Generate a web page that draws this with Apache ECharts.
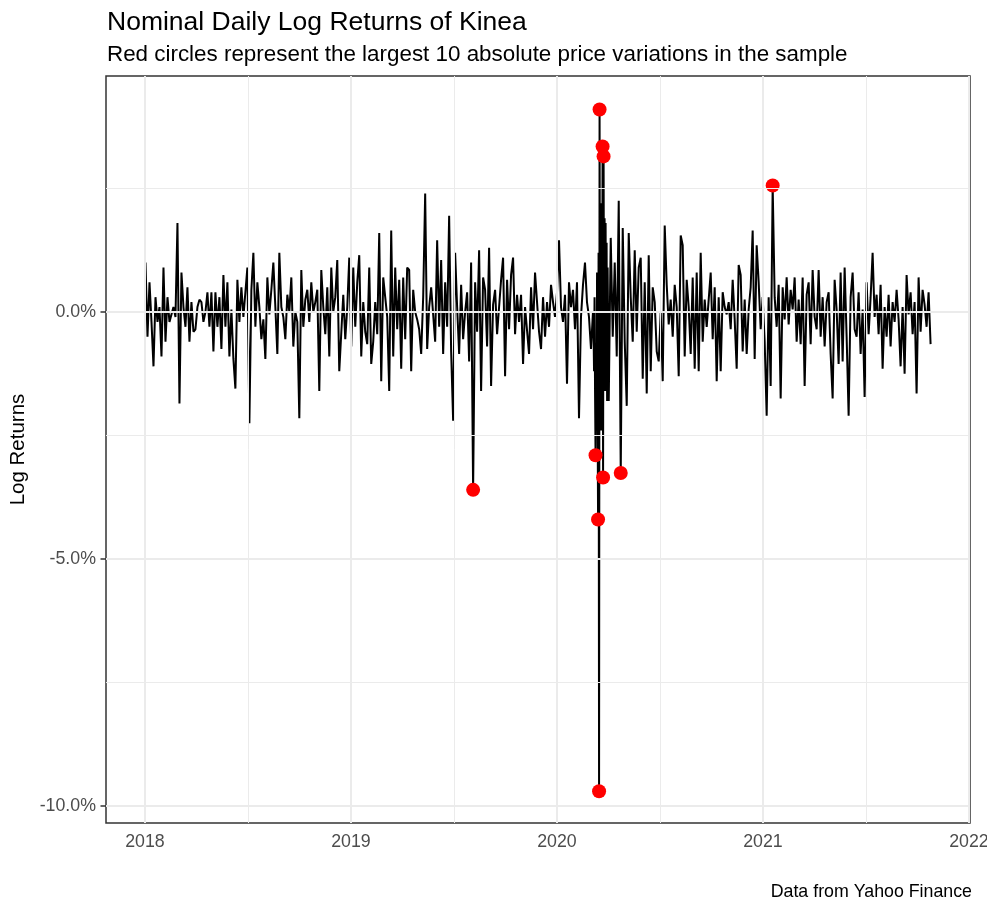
<!DOCTYPE html>
<html>
<head>
<meta charset="utf-8">
<script src="https://cdn.jsdelivr.net/npm/echarts@6/dist/echarts.min.js"></script>
<style>
  html, body { margin: 0; padding: 0; background: #fff; }
  #chart { width: 987px; height: 900px; }
</style>
</head>
<body>
<div id="chart"></div>
<script>
// daily log returns (%), in three stretches of time
const retA = [
  1.0, -0.5, 0.6, -0.2, -1.1, 0.3, -0.2, 0.1, -0.9, 0.9,
  -0.6, 0.3, -0.2, -0.2, 0.1, -0.1, 1.8, -1.85, 0.8, 0.1,
  -0.3, 0.5, -0.6, 0.2, -0.4, -0.35, 0.1, 0.25, 0.2, -0.2,
  0.0, 0.4, -0.3, 0.4, -0.8, 0.4, -0.3, 0.3, -0.75, 0.75,
  -0.3, 0.6, -0.9, 0.05, -0.95, -1.55, 0.65, -0.2,
  0.5, -0.1, 0.4, 0.9, -2.25, 0.45, 1.2, -0.3, 0.6, 0.1,
  -0.55, -0.15, -0.95, 0.7, -0.05, 0.45, 1.0, 0.1, -0.85, 1.2,
  0.1, -0.1, -0.55, 0.35, 0.0, 0.7, -0.7, 0.0, -0.2, -2.15,
  0.85, -0.3, 0.25, 0.45, -0.2, 0.6, 0.0, 0.2, 0.45, -1.6,
  0.85, 0.1, -0.45, 0.5, -0.9, 0.9, 0.0, 0.3, 1.05, -1.2,
  -1.2, 0.35, -0.55, 0.1, 1.1, -0.7, 0.9, -0.3, 0.6, 1.15,
  -0.9, 0.2, -0.4, -0.65, 0.9, -1.05, -0.6, 0.2, -0.45, 1.6,
  -1.4, 0.7, 0.3, -0.1, -1.6, 1.65, -0.9, 0.9, -0.35, 0.65,
  -1.15, 0.7, -0.55, 0.9, 0.85, -1.2, 0.45, 0.0, -0.15, -0.35,
  -0.85, 0.3, 2.4, -0.75, 0.1, 0.5, -0.05, -0.6, 1.45, -0.3,
  1.05, -0.85, 0.6, -0.3, 1.95, -0.8, -2.2, 1.2, 0.1, -0.85,
  0.55, -0.55, 0.0, 0.4, -1.0, 1.0, -3.6, 0.6, -0.4, 1.25,
  -1.6, 0.7, 0.45, -0.7, 1.3, -1.5, 0.15, 0.45, -0.45, 0.1,
  0.65, 1.1, -1.3, 0.65, -0.35, 0.75, 1.1, -0.45, 0.35, -0.2,
  0.35, -1.05, 0.1, 0.1, -0.85, 0.5, -0.35, 0.8, 0.8, -0.4,
  -0.75, 0.3, -0.5, 0.2, -0.3, 0.55, 0.2, -0.1, 0.4, 1.45,
  0.1, -0.2, 0.35, -1.45, 0.6, 0.1, 0.45, -0.35, 0.6, -2.15,
  -0.1, 0.55, 1.0, 0.2, -0.1, -0.75, 0.0
];
// march 2020, sampled finer
const retB = [
  -0.4, -1.2, 0.3, -1.6, -2.9, -0.9, -2.2, 0.8, -1.8, -4.2,
  1.2, -9.7, 4.1, -2.0, 1.8, -2.4, 2.2, -1.6, 3.35, -3.35,
  3.15, -1.2, 1.9, -1.6, 1.8, -0.9, 1.4, -1.8, 0.9
];
const retC = [
  -1.8, 1.5, -0.5, 1.0, -0.9, 2.25, -3.26, 1.7, -0.6, -1.9,
  1.6, 0.3, -0.6, 1.25, -0.4, 0.9,
  1.1, -1.35, 0.6, -1.65, 1.15, -1.2, 0.5, 0.2, -0.8, -1.0,
  0.0, -1.4, 1.75, 0.55, -0.25, 0.25, -0.5, 0.55, 0.1, -1.3,
  1.55, 1.35, -0.9, 0.65, 0.1, -0.85, 0.7, -1.15, 0.8, -1.2,
  1.2, -0.6, 0.25, -0.3, 0.25, 0.8, -0.55, 0.5, -1.4, 0.3,
  -1.2, 0.4, 0.1, -0.05, 0.2, -0.35, 0.65, -0.15, -1.15, 0.95,
  0.75, -0.8, 0.25, -0.85, 0.05, 0.5, 1.65, -0.95, 1.35, 0.6,
  -0.35, 0.3, -0.6, -2.1, 0.3, -1.5, 2.56, 0.3, -0.3, 0.55,
  -1.75, 0.5, -0.15, 0.7, -0.25, 0.45, 0.05, 0.7, -0.6, 0.25,
  -0.65, 0.7, -1.5, 0.35, 0.6, -0.65, 0.85, -0.1, -0.35, 0.85,
  -0.5, 0.3, -0.7, 0.2, 0.4, -0.85, -1.75, 0.65, 0.05, -1.05,
  0.8, -1.0, 0.9, -0.5, -2.1, 0.3, 0.8, -0.35, -0.5, 0.4,
  -0.85, 0.05, -1.72, 0.6, -0.45, 0.3, 1.2, -0.1, 0.35, -0.45,
  0.55, -1.15, 0.1, -0.5, 0.35, -0.7, 0.2, -0.2, 0.45, -0.15,
  -1.1, 0.1, -1.25, 0.75, -0.05, 0.4, -0.45, 0.2, -1.65, 0.7,
  -0.4, 0.45, 0.15, -0.3, 0.4, -0.65
];
const segFrom = ['2018-01-02', '2020-03-06', '2020-04-02'];
const segTo = ['2020-03-05', '2020-03-31', '2021-10-25'];
const yearTicks = [2018, 2019, 2020, 2021, 2022];
const yearMinor = [2018.5, 2019.5, 2020.5, 2021.5];
const retTicks = [-10, -5, 0];
const retMinor = [-7.5, -2.5, 2.5];

function decYear(s) {
  const d = new Date(s + 'T00:00:00Z');
  const y = d.getUTCFullYear();
  const a = Date.UTC(y, 0, 1), b = Date.UTC(y + 1, 0, 1);
  return y + (d.getTime() - a) / (b - a);
}

const points = [];
[retA, retB, retC].forEach(function (vals, s) {
  const x0 = decYear(segFrom[s]), x1 = decYear(segTo[s]);
  vals.forEach(function (v, i) {
    points.push([x0 + i * (x1 - x0) / (vals.length - 1), v]);
  });
});
// the 10 largest absolute variations
const top10 = points.slice().sort(function (a, b) {
  return Math.abs(b[1]) - Math.abs(a[1]);
}).slice(0, 10);

const font = 'Liberation Sans';
const gridMajor = { color: '#EBEBEB', width: 2, type: 'solid' };
const gridMinor = { color: '#EBEBEB', width: 1, type: 'solid' };

const chart = echarts.init(document.getElementById('chart'));
chart.setOption({
  animation: false,
  textStyle: { fontFamily: font },
  title: [
    {
      text: 'Nominal Daily Log Returns of Kinea',
      left: 107, top: 9, padding: 0,
      textStyle: { fontFamily: font, fontSize: 26.5, fontWeight: 'normal', color: '#000' }
    },
    {
      text: 'Red circles represent the largest 10 absolute price variations in the sample',
      left: 107, top: 44, padding: 0,
      textStyle: { fontFamily: font, fontSize: 22.4, fontWeight: 'normal', color: '#000' }
    },
    {
      text: 'Data from Yahoo Finance',
      right: 15, top: 883, padding: 0,
      textStyle: { fontFamily: font, fontSize: 17.8, fontWeight: 'normal', color: '#000' }
    }
  ],
  grid: {
    left: 106, right: 17, top: 76, bottom: 77,
    outerBoundsMode: 'none',
    show: true, borderColor: '#333', borderWidth: 1.5, backgroundColor: '#fff'
  },
  xAxis: {
    type: 'value',
    min: 2017.811, max: 2022.005,
    axisLine: { show: false },
    splitLine: { show: false },
    axisTick: { show: true, customValues: yearTicks, length: 5.5, lineStyle: { color: '#333', width: 1.5 } },
    axisLabel: {
      customValues: yearTicks, color: '#4D4D4D', fontSize: 17.8, margin: 10,
      formatter: function (v) { return String(v); }
    }
  },
  yAxis: {
    type: 'value',
    min: -10.344, max: 4.777,
    name: 'Log Returns',
    nameLocation: 'middle',
    nameGap: 74,
    nameRotate: 90,
    nameTextStyle: { color: '#000', fontSize: 20.5, fontFamily: font },
    axisLine: { show: false },
    splitLine: { show: false },
    axisTick: { show: true, customValues: retTicks, length: 5.5, lineStyle: { color: '#333', width: 1.5 } },
    axisLabel: {
      customValues: retTicks, color: '#4D4D4D', fontSize: 17.8, margin: 10,
      formatter: function (v) { return v.toFixed(1) + '%'; }
    }
  },
  series: [
    {
      name: 'grid',
      type: 'line',
      data: [],
      z: 1,
      silent: true,
      markLine: {
        silent: true,
        symbol: 'none',
        label: { show: false },
        animation: false,
        data: yearMinor.map(function (v) { return { xAxis: v, lineStyle: gridMinor }; })
          .concat(retMinor.map(function (v) { return { yAxis: v, lineStyle: gridMinor }; }))
          .concat(yearTicks.map(function (v) { return { xAxis: v, lineStyle: gridMajor }; }))
          .concat(retTicks.map(function (v) { return { yAxis: v, lineStyle: gridMajor }; }))
      }
    },
    {
      name: 'returns',
      type: 'line',
      data: points,
      showSymbol: false,
      z: 3,
      lineStyle: { color: '#000', width: 2 }
    },
    {
      name: 'largest',
      type: 'scatter',
      data: top10,
      z: 4,
      symbolSize: 14,
      itemStyle: { color: '#FF0000', opacity: 1 }
    }
  ]
});
</script>
</body>
</html>
